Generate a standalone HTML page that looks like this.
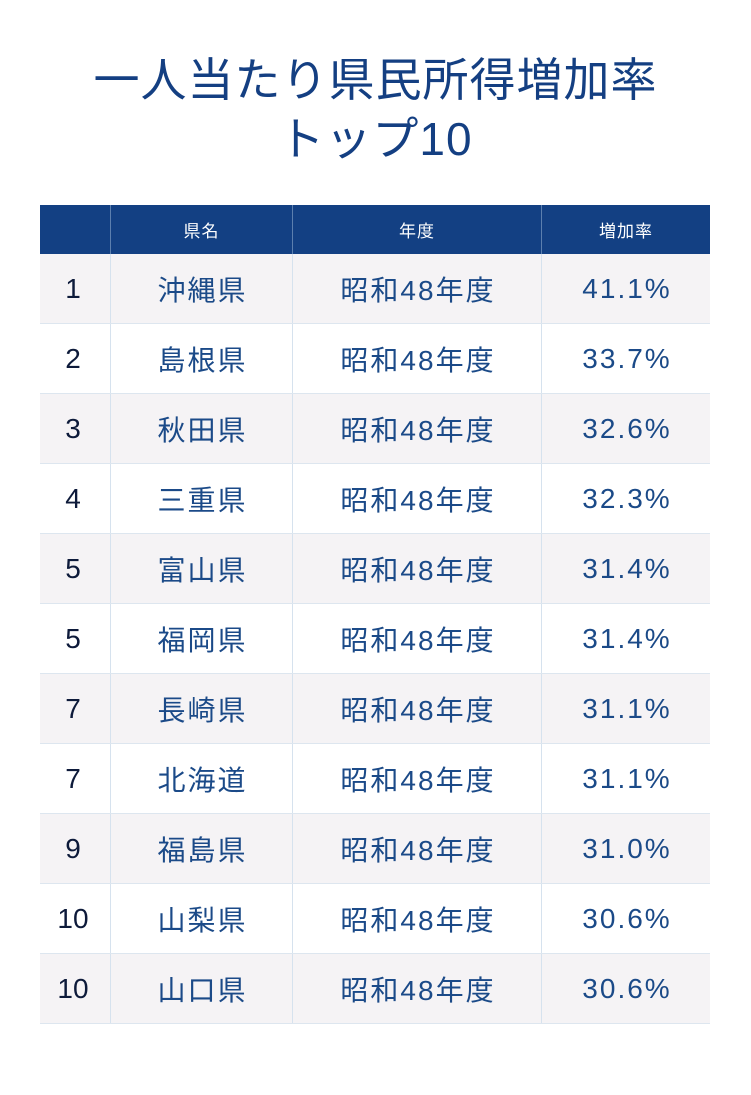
<!DOCTYPE html><html><head><meta charset="utf-8"><style>
body{margin:0;width:751px;height:1095px;background:#fff;font-family:"Liberation Sans","Noto Sans CJK JP",sans-serif;position:relative}
.t{position:absolute;left:0;width:751px;text-align:center;color:#143f82;font-size:46px;line-height:56px;letter-spacing:1px}
table{position:absolute;left:40px;top:205px;border-collapse:collapse;width:670px;table-layout:fixed}
th{background:#134083;color:#fff;font-weight:normal;font-size:17px;height:49px;padding:0;border-left:1px solid #5c7fae;letter-spacing:1px}
th:first-child{border-left:none}
td{height:69px;padding:0 0 0 2px;text-align:center;font-size:28px;color:#1b4a88;border-left:1px solid #d6e2ee;border-bottom:1px solid #dde6ef;letter-spacing:2px}
td:first-child{border-left:none;color:#0d1a3a;letter-spacing:0;padding:0 4px 0 0}
tr:nth-child(even) td{background:#f5f3f5}
</style></head><body>
<div class="t" style="top:52px">一人当たり県民所得増加率</div>
<div class="t" style="top:111px">トップ10</div>
<table>
<tr><th style="width:70px"></th><th style="width:181px">県名</th><th style="width:248px">年度</th><th>増加率</th></tr>
<tr><td>1</td><td>沖縄県</td><td>昭和48年度</td><td>41.1%</td></tr>
<tr><td>2</td><td>島根県</td><td>昭和48年度</td><td>33.7%</td></tr>
<tr><td>3</td><td>秋田県</td><td>昭和48年度</td><td>32.6%</td></tr>
<tr><td>4</td><td>三重県</td><td>昭和48年度</td><td>32.3%</td></tr>
<tr><td>5</td><td>富山県</td><td>昭和48年度</td><td>31.4%</td></tr>
<tr><td>5</td><td>福岡県</td><td>昭和48年度</td><td>31.4%</td></tr>
<tr><td>7</td><td>長崎県</td><td>昭和48年度</td><td>31.1%</td></tr>
<tr><td>7</td><td>北海道</td><td>昭和48年度</td><td>31.1%</td></tr>
<tr><td>9</td><td>福島県</td><td>昭和48年度</td><td>31.0%</td></tr>
<tr><td>10</td><td>山梨県</td><td>昭和48年度</td><td>30.6%</td></tr>
<tr><td>10</td><td>山口県</td><td>昭和48年度</td><td>30.6%</td></tr>
</table>
</body></html>
